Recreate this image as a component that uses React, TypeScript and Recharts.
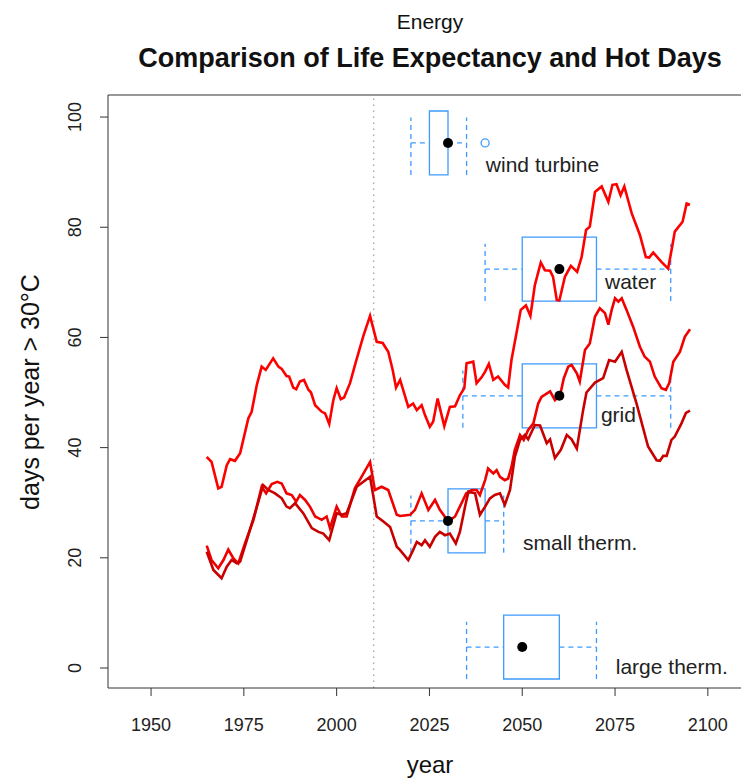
import React from 'react'
import {
  ComposedChart, Line, Scatter, XAxis, YAxis,
  ReferenceLine, ReferenceArea,
} from 'recharts'

const FONT = '"Liberation Sans", Arial, Helvetica, sans-serif'

// hot-day series [year, days]
const topLine: number[][] = [
  [1965.0, 38.3], [1966.3, 37.4], [1968.1, 32.6], [1969.0, 32.9], [1970.4, 36.8], [1971.3, 37.9],
  [1972.6, 37.6], [1974.0, 39.0], [1976.2, 45.3], [1977.1, 46.5], [1978.5, 51.4], [1979.8, 54.7],
  [1980.9, 54.1], [1982.9, 56.2], [1984.3, 54.7], [1985.2, 54.3], [1986.5, 53.0], [1987.2, 52.9],
  [1988.3, 50.9], [1989.1, 50.6], [1990.1, 52.0], [1991.2, 52.3], [1992.4, 50.5], [1993.1, 50.0],
  [1994.2, 47.7], [1996.0, 46.5], [1996.9, 46.2], [1998.0, 44.3], [1999.1, 48.6], [2000.0, 50.8],
  [2001.1, 48.8], [2002.0, 49.1], [2003.6, 51.7], [2005.2, 55.6], [2007.2, 60.3], [2009.0, 63.9],
  [2010.8, 59.2], [2012.4, 59.0], [2013.9, 57.4], [2015.1, 54.1], [2016.0, 50.9], [2017.1, 52.3],
  [2019.3, 47.4], [2020.6, 48.0], [2021.6, 46.8], [2022.9, 47.7], [2023.8, 45.9], [2025.1, 43.8],
  [2026.0, 44.7], [2027.2, 48.9], [2029.0, 43.9], [2030.5, 47.4], [2031.9, 47.5], [2033.2, 49.5],
  [2034.4, 50.8], [2035.0, 55.3], [2036.8, 55.6], [2037.7, 51.7], [2039.1, 52.8], [2040.0, 53.8],
  [2041.0, 55.2], [2042.2, 52.3], [2043.5, 52.9], [2045.3, 51.4], [2046.2, 50.9], [2047.1, 55.9],
  [2048.5, 61.0], [2049.6, 65.0], [2051.0, 65.8], [2052.2, 63.9], [2053.4, 69.5], [2055.0, 73.6],
  [2056.1, 72.2], [2057.5, 72.1], [2058.3, 71.0], [2059.3, 66.8], [2060.0, 66.7], [2061.5, 71.0],
  [2063.1, 73.0], [2064.8, 71.9], [2066.0, 74.6], [2067.2, 79.5], [2068.2, 80.1], [2069.6, 86.4],
  [2071.4, 87.4], [2073.2, 84.6], [2074.3, 87.7], [2075.4, 87.8], [2076.5, 85.8], [2077.5, 87.4],
  [2079.5, 82.5], [2081.7, 78.6], [2083.3, 74.6], [2084.2, 74.5], [2085.3, 75.4], [2087.5, 73.7],
  [2089.3, 72.5], [2090.4, 76.5], [2091.1, 79.2], [2093.2, 81.0], [2094.3, 84.3], [2095.2, 84.1],
]

const midLine: number[][] = [
  [1965.0, 22.2], [1966.3, 19.6], [1968.1, 18.1], [1969.5, 19.6], [1970.8, 21.5], [1972.2, 19.9],
  [1973.5, 19.0], [1975.3, 22.6], [1977.6, 26.9], [1979.8, 32.9], [1981.0, 31.7], [1982.5, 33.4],
  [1984.0, 33.8], [1985.2, 33.5], [1986.5, 31.7], [1987.9, 31.4], [1989.1, 30.2], [1990.1, 31.4],
  [1991.5, 30.5], [1992.8, 29.3], [1994.2, 27.5], [1996.0, 26.9], [1997.3, 27.5], [1998.2, 25.4],
  [2000.0, 29.3], [2001.4, 27.5], [2002.7, 27.5], [2004.9, 32.6], [2006.7, 34.7], [2009.0, 37.4],
  [2010.3, 32.3], [2012.1, 32.9], [2013.9, 32.3], [2016.2, 27.8], [2017.1, 27.6], [2019.8, 27.8],
  [2021.1, 28.7], [2022.9, 31.7], [2024.7, 28.7], [2026.5, 30.5], [2027.8, 28.7], [2030.1, 26.6],
  [2031.9, 27.5], [2033.2, 29.3], [2034.9, 31.7], [2036.4, 32.3], [2037.7, 32.3], [2038.6, 31.4],
  [2040.0, 34.1], [2040.8, 36.2], [2042.2, 35.3], [2043.1, 35.9], [2044.0, 34.7], [2045.3, 34.1],
  [2046.2, 34.4], [2047.1, 36.5], [2048.0, 39.6], [2049.4, 42.3], [2050.4, 41.4], [2051.6, 43.2],
  [2053.0, 44.4], [2054.3, 48.0], [2055.2, 49.2], [2057.5, 50.2], [2058.8, 48.6], [2060.2, 49.5],
  [2061.2, 52.6], [2062.4, 54.7], [2063.3, 55.0], [2064.7, 53.5], [2065.5, 52.0], [2066.9, 57.7],
  [2068.2, 58.9], [2069.6, 63.8], [2070.9, 65.3], [2072.3, 64.4], [2073.2, 62.3], [2074.1, 65.0],
  [2075.0, 67.1], [2075.9, 66.5], [2076.8, 67.1], [2078.1, 65.0], [2079.9, 61.9], [2081.7, 58.3],
  [2083.0, 56.5], [2084.4, 55.6], [2085.7, 52.9], [2087.5, 50.8], [2088.7, 50.5], [2089.6, 51.7],
  [2090.7, 55.6], [2092.5, 57.4], [2093.8, 60.1], [2095.2, 61.5],
]

const lowLine: number[][] = [
  [1965.0, 21.1], [1966.8, 17.8], [1969.0, 16.3], [1970.4, 18.4], [1971.7, 19.6], [1973.1, 19.0],
  [1974.0, 19.3], [1975.8, 23.2], [1978.0, 28.1], [1980.2, 33.2], [1981.6, 32.3], [1983.4, 31.7],
  [1985.2, 30.8], [1986.5, 29.3], [1987.4, 29.0], [1988.8, 29.9], [1991.0, 28.1], [1993.3, 25.4],
  [1995.1, 24.7], [1996.4, 24.4], [1998.0, 23.2], [2000.0, 28.1], [2001.4, 27.8], [2002.7, 28.1],
  [2005.4, 32.9], [2007.2, 33.8], [2009.0, 34.7], [2010.8, 27.5], [2012.6, 26.6], [2014.4, 25.6],
  [2016.2, 22.0], [2017.1, 21.4], [2019.3, 19.6], [2020.6, 21.4], [2021.6, 22.9], [2022.9, 22.3],
  [2023.8, 23.2], [2025.1, 22.0], [2026.5, 23.8], [2027.8, 24.7], [2029.2, 24.1], [2030.5, 24.4],
  [2032.1, 22.6], [2033.2, 24.7], [2034.6, 29.3], [2035.5, 32.0], [2037.3, 31.7], [2038.6, 27.8],
  [2040.0, 29.3], [2041.3, 30.8], [2042.6, 31.4], [2044.0, 31.7], [2045.3, 29.6], [2046.7, 32.3],
  [2048.0, 38.3], [2049.4, 41.4], [2050.7, 42.3], [2051.6, 41.5], [2053.4, 44.1], [2054.8, 44.0],
  [2056.6, 40.8], [2057.5, 41.5], [2058.8, 38.1], [2060.4, 39.6], [2062.0, 42.3], [2063.3, 41.5],
  [2064.7, 39.8], [2066.4, 46.8], [2067.3, 50.0], [2069.6, 51.8], [2071.8, 52.6], [2073.4, 55.9],
  [2075.0, 55.6], [2075.9, 56.5], [2076.8, 57.4], [2078.1, 54.1], [2080.8, 48.0], [2083.9, 40.2],
  [2086.2, 37.7], [2087.1, 37.6], [2088.0, 38.5], [2088.9, 38.5], [2090.2, 41.4], [2091.1, 42.0],
  [2092.9, 44.4], [2094.1, 46.3], [2095.2, 46.7],
]

// boxplots of technology lifetimes
const boxNames = ['wind turbine', 'water', 'grid', 'small therm.', 'large therm.']
const boxPos = [95.3, 72.4, 49.4, 26.7, 3.8]
const boxLow = [2020, 2040, 2034, 2020, 2035]
const boxQ1 = [2025, 2050, 2050, 2030, 2045]
const boxMid = [2030, 2060, 2060, 2030, 2050]
const boxQ3 = [2030, 2070, 2070, 2040, 2060]
const boxHigh = [2035, 2090, 2090, 2045, 2070]
const outliers = [{ x: 2040, v: 95.3 }]
const labelX = [2040.2, 2072.3, 2071.2, 2050.2, 2075.2]
const labelY = [91.3, 70.1, 46.1, 22.7, 0.2]

const xTicks = [1950, 1975, 2000, 2025, 2050, 2075, 2100]
const yTicks = [0, 20, 40, 60, 80, 100]
const X_DOMAIN = [1938.4, 2111.9]
const Y_DOMAIN = [-3.63, 104.0]

const toPts = (arr: number[][]) => arr.map(([x, v]) => ({ x, v }))
const dots = boxMid.map((x, i) => ({ x, v: boxPos[i] }))
const labels = boxNames.map((name, i) => ({ x: labelX[i], v: labelY[i], name }))

const BLUE = '#3d9bff'
const HALF = 5.8

const XTick = (props: any) => {
  const { x, y, payload } = props
  return (
    <text x={x} y={y + 27} textAnchor="middle" dominantBaseline="central"
      fontSize={18} fill="#222" fontFamily={FONT}>{payload.value}</text>
  )
}

const YTick = (props: any) => {
  const { x, y, payload } = props
  const tx = x - 23
  return (
    <text x={tx} y={y} transform={`rotate(-90 ${tx} ${y})`} textAnchor="middle"
      dominantBaseline="central" fontSize={18} fill="#222" fontFamily={FONT}>{payload.value}</text>
  )
}

export default function App() {
  return (
    <div style={{ position: 'absolute', left: 0, top: 0, width: 741, height: 780, overflow: 'hidden', background: '#fff', fontFamily: FONT, color: '#111' }}>
      <div style={{ position: 'absolute', left: 0, width: 860, top: 8, textAlign: 'center', fontSize: 21, lineHeight: '28px' }}>Energy</div>
      <div style={{ position: 'absolute', left: 0, width: 860, top: 42, textAlign: 'center', fontSize: 27, fontWeight: 'bold', lineHeight: '32px' }}>
        Comparison of Life Expectancy and Hot Days
      </div>
      <div style={{ position: 'absolute', left: 30 - 200, top: 392 - 16, width: 400, height: 32, lineHeight: '32px', textAlign: 'center', fontSize: 25, transform: 'rotate(-90deg)' }}>
        days per year &gt; 30°C
      </div>
      <div style={{ position: 'absolute', left: 330, width: 200, top: 751, textAlign: 'center', fontSize: 24, lineHeight: '28px' }}>year</div>

      <div style={{ position: 'absolute', left: 0, top: 0 }}>
        <ComposedChart width={760} height={780} margin={{ top: 95, right: 8, bottom: 52, left: 48 }}>
          <XAxis type="number" dataKey="x" domain={X_DOMAIN} allowDataOverflow ticks={xTicks}
            height={40} tickSize={8} tick={<XTick />} stroke="#333" interval={0} />
          <YAxis type="number" domain={Y_DOMAIN} allowDataOverflow ticks={yTicks}
            width={60} tickSize={8} tick={<YTick />} stroke="#333" interval={0} />
          <ReferenceLine y={Y_DOMAIN[1]} stroke="#333" ifOverflow="visible" />
          <ReferenceLine x={X_DOMAIN[1]} stroke="#333" ifOverflow="visible" />
          <ReferenceLine x={2010} stroke="#888" strokeDasharray="1.5 4.5" />

          {boxNames.map((n, i) => (
            <ReferenceArea key={'b' + n} x1={boxQ1[i]} x2={boxQ3[i]} y1={boxPos[i] - HALF} y2={boxPos[i] + HALF}
              stroke={BLUE} strokeWidth={1.3} fill="none" fillOpacity={0} strokeOpacity={1} ifOverflow="visible" />
          ))}
          {boxNames.map((n, i) => (
            <ReferenceLine key={'wl' + n} segment={[{ x: boxLow[i], y: boxPos[i] }, { x: boxQ1[i], y: boxPos[i] }]}
              stroke={BLUE} strokeWidth={1.3} strokeDasharray="5 4" ifOverflow="visible" />
          ))}
          {boxNames.map((n, i) => (
            <ReferenceLine key={'wh' + n} segment={[{ x: boxQ3[i], y: boxPos[i] }, { x: boxHigh[i], y: boxPos[i] }]}
              stroke={BLUE} strokeWidth={1.3} strokeDasharray="5 4" ifOverflow="visible" />
          ))}
          {boxNames.map((n, i) => (
            <ReferenceLine key={'sl' + n} segment={[{ x: boxLow[i], y: boxPos[i] - HALF }, { x: boxLow[i], y: boxPos[i] + 4.6 }]}
              stroke={BLUE} strokeWidth={1.3} strokeDasharray="5 4" ifOverflow="visible" />
          ))}
          {boxNames.map((n, i) => (
            <ReferenceLine key={'sh' + n} segment={[{ x: boxHigh[i], y: boxPos[i] - HALF }, { x: boxHigh[i], y: boxPos[i] + 4.6 }]}
              stroke={BLUE} strokeWidth={1.3} strokeDasharray="5 4" ifOverflow="visible" />
          ))}

          <Line data={toPts(topLine)} dataKey="v" stroke="#ff0000" strokeWidth={2.6} dot={false} type="linear" isAnimationActive={false} />
          <Line data={toPts(midLine)} dataKey="v" stroke="#f00000" strokeWidth={2.6} dot={false} type="linear" isAnimationActive={false} />
          <Line data={toPts(lowLine)} dataKey="v" stroke="#c80000" strokeWidth={2.6} dot={false} type="linear" isAnimationActive={false} />

          <Scatter data={dots} dataKey="v" isAnimationActive={false}
            shape={(p: any) => <circle cx={p.cx} cy={p.cy} r={5} fill="#000" />} />
          <Scatter data={outliers} dataKey="v" isAnimationActive={false}
            shape={(p: any) => <circle cx={p.cx} cy={p.cy} r={4} fill="none" stroke={BLUE} strokeWidth={1.3} />} />
          <Scatter data={labels} dataKey="v" isAnimationActive={false}
            shape={(p: any) => (
              <text x={p.cx} y={p.cy} textAnchor="start" dominantBaseline="central" fontSize={21}
                fill="#222" fontFamily={FONT}>{p.payload.name}</text>
            )} />
        </ComposedChart>
      </div>
    </div>
  )
}
